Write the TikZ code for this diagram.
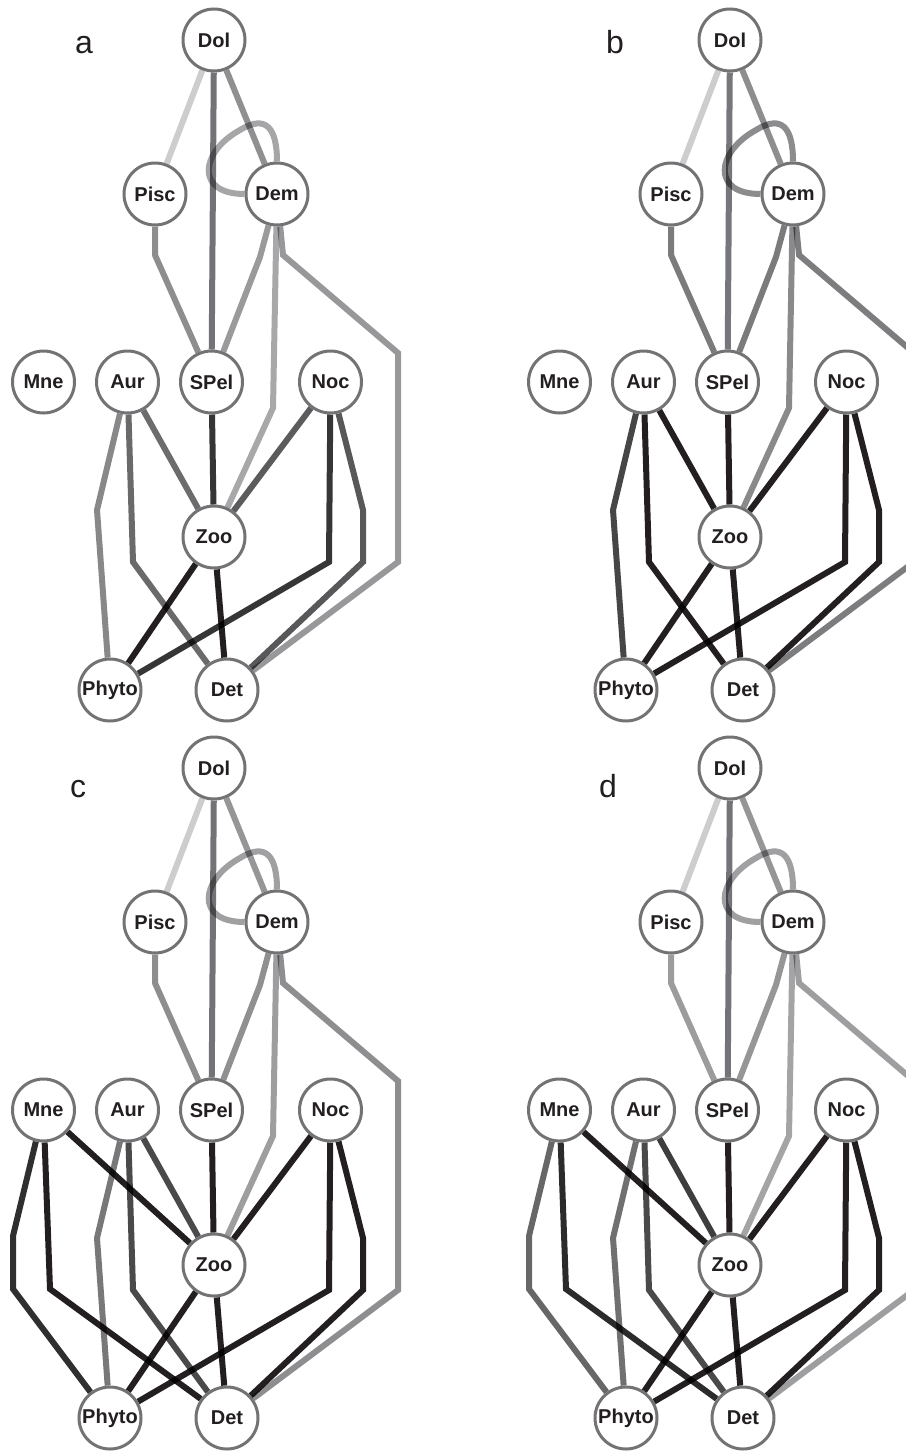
\documentclass[tikz,border=0pt]{standalone}
\usepackage{fontspec}
\setmainfont{Liberation Sans}

\pgfdeclarelayer{edges}
\pgfsetlayers{edges,main}

% common inks
\definecolor{ringgray}{HTML}{737375}
\definecolor{ink}{HTML}{231F20}

% panel a
\definecolor{a-DolPisc}{HTML}{CDCDCF}
\definecolor{a-DolSPel}{HTML}{737377}
\definecolor{a-DolDem}{HTML}{909092}
\definecolor{a-Loop}{HTML}{A6A6A8}
\definecolor{a-PiscSPel}{HTML}{8E8E90}
\definecolor{a-DemSPel}{HTML}{9A9A9C}
\definecolor{a-DemZoo}{HTML}{A8A8AA}
\definecolor{a-DemDet}{HTML}{98989A}
\definecolor{a-AurZoo}{HTML}{6C6C6E}
\definecolor{a-AurPhyto}{HTML}{88888A}
\definecolor{a-AurDet}{HTML}{6A6A6C}
\definecolor{a-SPelZoo}{HTML}{353535}
\definecolor{a-NocZoo}{HTML}{5C5C5E}
\definecolor{a-NocPhyto}{HTML}{363636}
\definecolor{a-NocDet}{HTML}{58585A}
\definecolor{a-ZooPhyto}{HTML}{231F20}
\definecolor{a-ZooDet}{HTML}{231F20}

% panel b
\definecolor{b-DolPisc}{HTML}{CDCDCF}
\definecolor{b-DolSPel}{HTML}{77777B}
\definecolor{b-DolDem}{HTML}{8E8E90}
\definecolor{b-Loop}{HTML}{8C8C8E}
\definecolor{b-PiscSPel}{HTML}{7B7B7D}
\definecolor{b-DemSPel}{HTML}{7B7B7D}
\definecolor{b-DemZoo}{HTML}{8A8A8C}
\definecolor{b-DemDet}{HTML}{7D7D80}
\definecolor{b-AurZoo}{HTML}{231F20}
\definecolor{b-AurPhyto}{HTML}{464648}
\definecolor{b-AurDet}{HTML}{231F20}
\definecolor{b-SPelZoo}{HTML}{231F20}
\definecolor{b-NocZoo}{HTML}{231F20}
\definecolor{b-NocPhyto}{HTML}{231F20}
\definecolor{b-NocDet}{HTML}{231F20}
\definecolor{b-ZooPhyto}{HTML}{231F20}
\definecolor{b-ZooDet}{HTML}{231F20}

% panel c
\definecolor{c-DolPisc}{HTML}{CDCDCF}
\definecolor{c-DolSPel}{HTML}{737377}
\definecolor{c-DolDem}{HTML}{969698}
\definecolor{c-Loop}{HTML}{A0A0A2}
\definecolor{c-PiscSPel}{HTML}{8E8E90}
\definecolor{c-DemSPel}{HTML}{909092}
\definecolor{c-DemZoo}{HTML}{9E9EA0}
\definecolor{c-DemDet}{HTML}{8E8E90}
\definecolor{c-AurZoo}{HTML}{4A4A4C}
\definecolor{c-AurPhyto}{HTML}{78787A}
\definecolor{c-AurDet}{HTML}{4A4A4C}
\definecolor{c-SPelZoo}{HTML}{231F20}
\definecolor{c-NocZoo}{HTML}{231F20}
\definecolor{c-NocPhyto}{HTML}{231F20}
\definecolor{c-NocDet}{HTML}{231F20}
\definecolor{c-ZooPhyto}{HTML}{231F20}
\definecolor{c-ZooDet}{HTML}{231F20}
\definecolor{c-MneZoo}{HTML}{231F20}
\definecolor{c-MnePhyto}{HTML}{2F2F2F}
\definecolor{c-MneDet}{HTML}{231F20}

% panel d
\definecolor{d-DolPisc}{HTML}{CDCDCF}
\definecolor{d-DolSPel}{HTML}{747478}
\definecolor{d-DolDem}{HTML}{969698}
\definecolor{d-Loop}{HTML}{A0A0A2}
\definecolor{d-PiscSPel}{HTML}{9C9C9E}
\definecolor{d-DemSPel}{HTML}{969698}
\definecolor{d-DemZoo}{HTML}{A4A4A6}
\definecolor{d-DemDet}{HTML}{9E9EA0}
\definecolor{d-AurZoo}{HTML}{3E3E40}
\definecolor{d-AurPhyto}{HTML}{707072}
\definecolor{d-AurDet}{HTML}{4A4A4C}
\definecolor{d-SPelZoo}{HTML}{231F20}
\definecolor{d-NocZoo}{HTML}{231F20}
\definecolor{d-NocPhyto}{HTML}{231F20}
\definecolor{d-NocDet}{HTML}{231F20}
\definecolor{d-ZooPhyto}{HTML}{231F20}
\definecolor{d-ZooDet}{HTML}{231F20}
\definecolor{d-MneZoo}{HTML}{231F20}
\definecolor{d-MnePhyto}{HTML}{676769}
\definecolor{d-MneDet}{HTML}{2B2B2B}

\tikzset{
  species/.style={circle, draw=ringgray, line width=3pt, fill=white,
    minimum size=62pt, inner sep=0pt, text=ink,
    font=\fontsize{20}{23}\selectfont\bfseries},
  link/.style={line width=6pt, draw=#1},
  panellabel/.style={anchor=base, text=ink,
    font=\fontsize{32}{38}\selectfont},
}

% the ten compartments of one web
\newcommand\speciesnodes[1]{%
  \node[species] (#1Dol)   at (214,40)    {Dol};
  \node[species] (#1Pisc)  at (155,194)   {Pisc};
  \node[species] (#1Dem)   at (277,194)   {Dem};
  \node[species] (#1Mne)   at (43.5,382)  {Mne};
  \node[species] (#1Aur)   at (127.5,382) {Aur};
  \node[species] (#1SPel)  at (211.5,382) {SPel};
  \node[species] (#1Noc)   at (330.5,382) {Noc};
  \node[species] (#1Zoo)   at (214,537)   {Zoo};
  \node[species] (#1Phyto) at (110,690)   {Phyto};
  \node[species] (#1Det)   at (227,690)   {Det};
}

% trophic links shared by all four webs
\newcommand\foodweb[1]{%
  \draw[link=#1-DolPisc]   (#1Dol) -- (#1Pisc);
  \draw[link=#1-DolSPel]   (#1Dol) -- (#1SPel);
  \draw[link=#1-DolDem]    (#1Dol) -- (#1Dem);
  \draw[link=#1-Loop]      (#1Dem.180) .. controls (195,194) and (200,152) .. (240,130)
                           .. controls (266,114) and (277,128) .. (#1Dem.90);
  \draw[link=#1-PiscSPel]  (#1Pisc) -- (155,255) -- (#1SPel);
  \draw[link=#1-DemSPel]   (#1Dem) -- (260,257) -- (#1SPel);
  \draw[link=#1-DemZoo]    (#1Dem) -- (273,408) -- (#1Zoo);
  \draw[link=#1-DemDet]    (#1Dem) -- (283,255) -- (398,353) -- (398,562) -- (#1Det);
  \draw[link=#1-AurZoo]    (#1Aur) -- (#1Zoo);
  \draw[link=#1-AurPhyto]  (#1Aur) -- (97,510) -- (#1Phyto);
  \draw[link=#1-AurDet]    (#1Aur) -- (133,562) -- (#1Det);
  \draw[link=#1-SPelZoo]   (#1SPel) -- (#1Zoo);
  \draw[link=#1-NocZoo]    (#1Noc) -- (#1Zoo);
  \draw[link=#1-NocPhyto]  (#1Noc) -- (329,562) -- (#1Phyto);
  \draw[link=#1-NocDet]    (#1Noc) -- (363,510) -- (363,562) -- (#1Det);
  \draw[link=#1-ZooPhyto]  (#1Zoo) -- (#1Phyto);
  \draw[link=#1-ZooDet]    (#1Zoo) -- (#1Det);
}

% links of the ctenophore, present in webs c and d only
\newcommand\mnelinks[1]{%
  \draw[link=#1-MneZoo]   (#1Mne) -- (#1Zoo);
  \draw[link=#1-MnePhyto] (#1Mne) -- (13,508) -- (13,561) -- (#1Phyto);
  \draw[link=#1-MneDet]   (#1Mne) -- (50,561) -- (#1Det);
}

\begin{document}
\begin{tikzpicture}[x=1pt, y=-1pt]
  \useasboundingbox (0,0) rectangle (905,1451);

  % web a
  \begin{scope}
    \speciesnodes{a}
    \begin{pgfonlayer}{edges}
      \begin{scope}[blend mode=multiply]
        \foodweb{a}
      \end{scope}
    \end{pgfonlayer}
  \end{scope}

  % web b
  \begin{scope}[shift={(516,0)}]
    \speciesnodes{b}
    \begin{pgfonlayer}{edges}
      \begin{scope}[blend mode=multiply]
        \foodweb{b}
      \end{scope}
    \end{pgfonlayer}
  \end{scope}

  % web c
  \begin{scope}[shift={(0,728)}]
    \speciesnodes{c}
    \begin{pgfonlayer}{edges}
      \begin{scope}[blend mode=multiply]
        \foodweb{c}
        \mnelinks{c}
      \end{scope}
    \end{pgfonlayer}
  \end{scope}

  % web d
  \begin{scope}[shift={(516,728)}]
    \speciesnodes{d}
    \begin{pgfonlayer}{edges}
      \begin{scope}[blend mode=multiply]
        \foodweb{d}
        \mnelinks{d}
      \end{scope}
    \end{pgfonlayer}
  \end{scope}

  % panel letters
  \node[panellabel] (labA) at (84,53)  {a};
  \node[panellabel] (labB) at (615,53) {b};
  \node[panellabel] (labC) at (78,797) {c};
  \node[panellabel] (labD) at (608,797) {d};
\end{tikzpicture}
\end{document}
